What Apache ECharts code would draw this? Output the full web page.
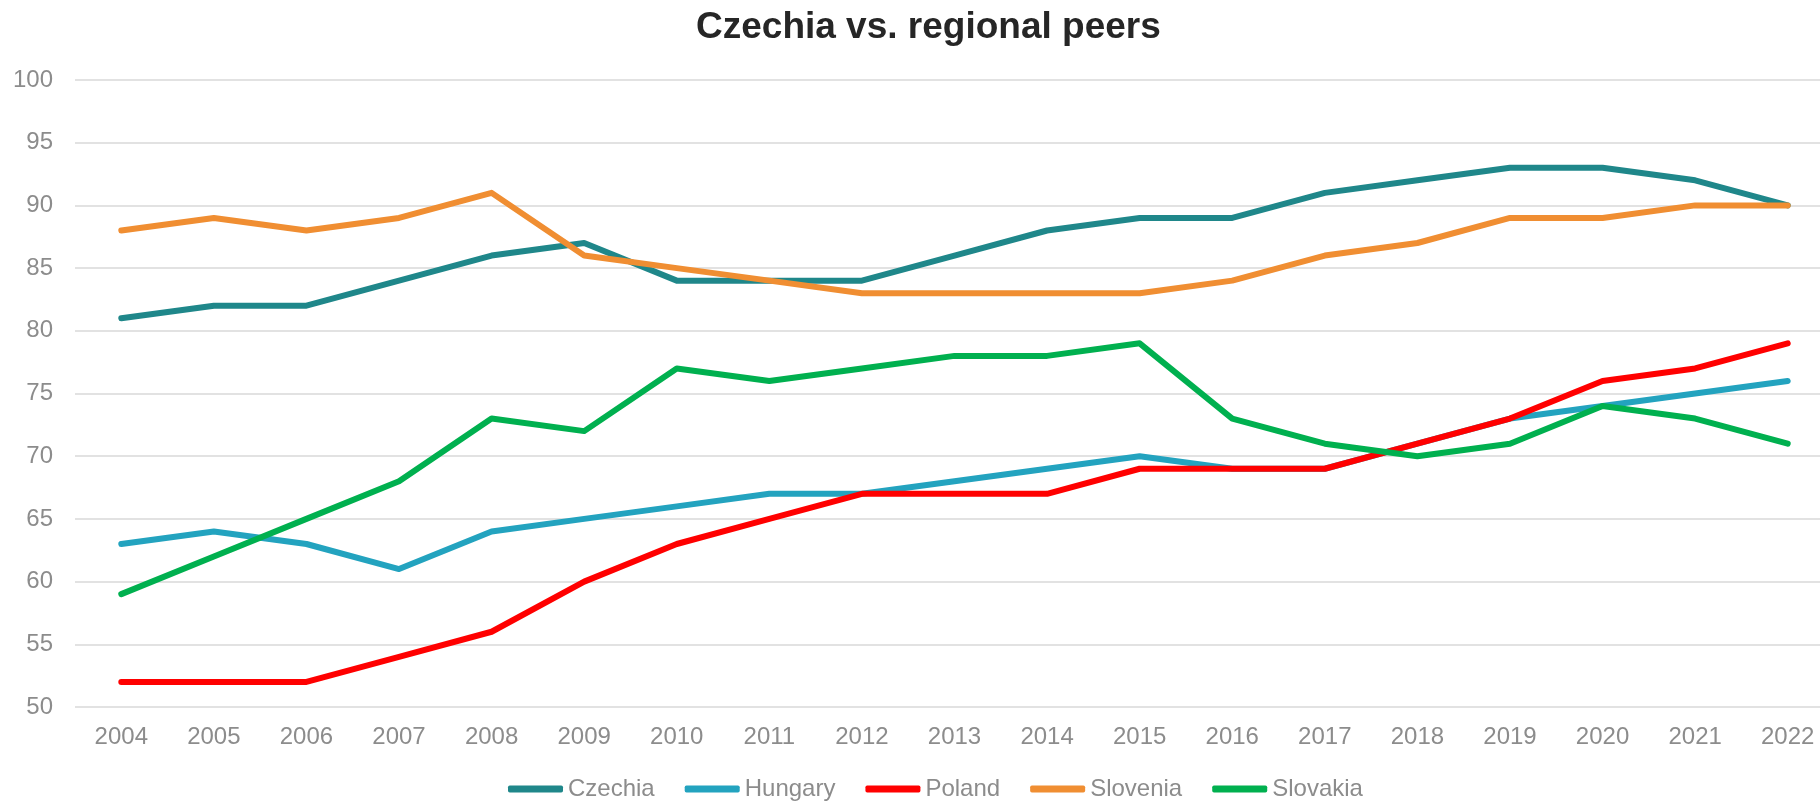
<!DOCTYPE html>
<html>
<head>
<meta charset="utf-8">
<title>Czechia vs. regional peers</title>
<script src="https://cdn.jsdelivr.net/npm/echarts@6/dist/echarts.min.js"></script>
<style>
  html, body { margin: 0; padding: 0; background: #fff; }
  #main { width: 1820px; height: 801px; }
</style>
</head>
<body>
<div id="main"></div>
<script>
// data
var years = ['2004', '2005', '2006', '2007', '2008', '2009', '2010', '2011', '2012', '2013',
             '2014', '2015', '2016', '2017', '2018', '2019', '2020', '2021', '2022'];
var czechia  = [81, 82, 82, 84, 86, 87, 84, 84, 84, 86, 88, 89, 89, 91, 92, 93, 93, 92, 90];
var hungary  = [63, 64, 63, 61, 64, 65, 66, 67, 67, 68, 69, 70, 69, 69, 71, 73, 74, 75, 76];
var poland   = [52, 52, 52, 54, 56, 60, 63, 65, 67, 67, 67, 69, 69, 69, 71, 73, 76, 77, 79];
var slovenia = [88, 89, 88, 89, 91, 86, 85, 84, 83, 83, 83, 83, 84, 86, 87, 89, 89, 90, 90];
var slovakia = [59, 62, 65, 68, 73, 72, 77, 76, 77, 78, 78, 79, 73, 71, 70, 71, 74, 73, 71];

var names = ['Czechia', 'Hungary', 'Poland', 'Slovenia', 'Slovakia'];
var colors = ['#1F878A', '#23A3BF', '#FF0000', '#F08E32', '#00B04F'];
var values = [czechia, hungary, poland, slovenia, slovakia];

var font = '"Liberation Sans", Arial, sans-serif';

var myChart = echarts.init(document.getElementById('main'));

var series = names.map(function (n, i) {
    return {
        name: n,
        type: 'line',
        data: values[i],
        symbol: 'none',
        lineStyle: { width: 6, color: colors[i], cap: 'round', join: 'round' },
        itemStyle: { color: colors[i] }
    };
});

myChart.setOption({
    animation: false,
    title: {
        text: 'Czechia vs. regional peers',
        left: 691,
        top: 4,
        textStyle: { fontFamily: font, fontSize: 37, fontWeight: 'bold', color: '#262626' }
    },
    legend: {
        data: names,
        left: 503,
        top: 772,
        icon: 'roundRect',
        itemWidth: 55,
        itemHeight: 7,
        itemGap: 30,
        textStyle: { fontFamily: font, fontSize: 24, color: '#8c8c8c' }
    },
    // plot runs a little past the right edge, as in the reference
    grid: { outerBoundsMode: 'none', left: 75, right: -14, top: 80, bottom: 94, containLabel: false },
    xAxis: {
        type: 'category',
        data: years,
        boundaryGap: true,
        axisLine: { show: false },
        axisTick: { show: false },
        axisLabel: { fontFamily: font, fontSize: 24, color: '#8c8c8c', margin: 18 }
    },
    yAxis: {
        type: 'value',
        min: 50,
        max: 100,
        interval: 5,
        axisLine: { show: false },
        axisTick: { show: false },
        axisLabel: { fontFamily: font, fontSize: 24, color: '#8c8c8c', margin: 22 },
        splitLine: { lineStyle: { color: '#d9d9d9', width: 1.5 } }
    },
    series: series
});
</script>
</body>
</html>
